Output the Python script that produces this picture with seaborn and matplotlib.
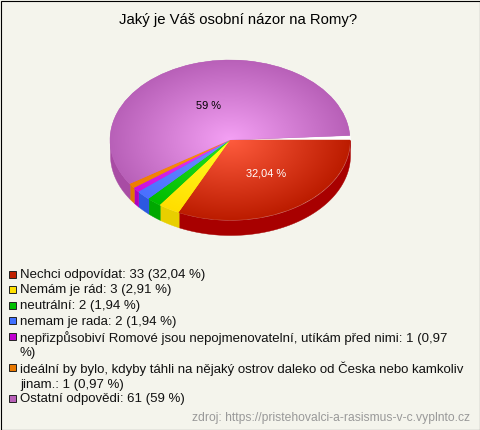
import numpy as np
import seaborn as sns
import matplotlib.pyplot as plt
from matplotlib.patches import Rectangle

sns.set_theme(style="white")
plt.rcParams['font.family'] = ['Liberation Sans', 'DejaVu Sans']

title = "Jaký je Váš osobní názor na Romy?"
source = "zdroj: https://pristehovalci-a-rasismus-v-c.vyplnto.cz"
legend_labels = [
    "Nechci odpovídat: 33 (32,04 %)",
    "Nemám je rád: 3 (2,91 %)",
    "neutrální: 2 (1,94 %)",
    "nemam je rada: 2 (1,94 %)",
    "nepřizpůsobiví Romové jsou nepojmenovatelní, utíkám před nimi: 1 (0,97\n%)",
    "ideální by bylo, kdyby táhli na nějaký ostrov daleko od Česka nebo kamkoliv\njinam.: 1 (0,97 %)",
    "Ostatní odpovědi: 61 (59 %)",
]
percents = [32.04, 2.91, 1.94, 1.94, 0.97, 0.97, 59]

center_colors = ["#ff5c3e", "#ffff22", "#24e424", "#7090ff", "#e844f4", "#ff9414", "#f4a0f4"]
edge_colors = ["#bc1c00", "#ffde00", "#00bc00", "#4a70ff", "#cc10dc", "#ee7e00", "#b860b8"]
side_colors = ["#a80000", "#e8cf00", "#00a800", "#2c58e0", "#b000c0", "#e07800", "#a84ca4"]
swatch_colors = ["#c02000", "#ffe000", "#00c000", "#4070ff", "#c000d0", "#e87800", "#b860b8"]

bg = "#f4f4ec"
depth = 15 / 80

fig = plt.figure(figsize=(4.8, 4.3), dpi=100, facecolor=bg)

# pie box in pixels: x 100-360, y 50-250, pie centre at 230,140
ax = fig.add_axes([100 / 480, 1 - 250 / 430, 260 / 480, 200 / 430])
wedges, _ = ax.pie([p / 100 for p in percents], startangle=0, counterclock=False, normalize=False, colors=edge_colors)

# last slice stops a bit before the first one, white gap between
wedges[-1].set_theta1(wedges[-1].theta1 + 2.4)
ax.pie([0.008], startangle=0, counterclock=True, normalize=False, colors=["white"], wedgeprops={'zorder': 0})

xx, yy = np.meshgrid(np.linspace(-1.1, 1.1, 500), np.linspace(-1.1, 1.1, 500))
rr = np.clip(np.sqrt(xx ** 2 + yy ** 2), 0, 1)

for i, w in enumerate(wedges):
    # side of the slice, only the part facing down
    t = np.radians(np.linspace(w.theta1, w.theta2, 500))
    x = np.cos(t)
    y = np.sin(t)
    m = y <= 0
    ax.fill_between(x[m], y[m], y[m] - depth, color=side_colors[i], lw=0.3, zorder=0.5)

    w.set_edgecolor(edge_colors[i])
    w.set_linewidth(0.3)
    w.set_zorder(1)

    cmap = sns.blend_palette([center_colors[i], edge_colors[i]], as_cmap=True)
    im = ax.imshow(rr, cmap=cmap, vmin=0, vmax=1, extent=(-1.1, 1.1, -1.1, 1.1),
                   origin='lower', aspect='auto', zorder=2, interpolation='bilinear')
    im.set_clip_path(w)

ax.set_aspect('auto')
ax.set_xlim(-130 / 120, 130 / 120)
ax.set_ylim(-110 / 80, 90 / 80)
ax.axis('off')

# overlay in pixel coords for the texts
ov = fig.add_axes([0, 0, 1, 1], facecolor='none')
ov.set_xlim(0, 480)
ov.set_ylim(430, 0)
ov.axis('off')

ov.text(238, 20, title, ha='center', va='center', fontsize=10.7, color='black')
ov.text(209, 106, "59 %", ha='center', va='center', fontsize=7.9, color='black')
ov.text(266, 173, "32,04 %", ha='center', va='center', fontsize=7.9, color='white')

row = 274.5
for i, lab in enumerate(legend_labels):
    ov.add_patch(Rectangle((9, row - 4), 7, 7, facecolor=swatch_colors[i], edgecolor='#222222', lw=0.7))
    ov.text(20, row - 5.5, lab, ha='left', va='top', fontsize=9.58, color='#111111', linespacing=1.25)
    row += 15.5 * (lab.count('\n') + 1)

ov.text(470, 418, source, ha='right', va='center', fontsize=8.7, color='#999999')

# black frame
ov.add_patch(Rectangle((0.5, 0.5), 479, 429, facecolor='none', edgecolor='black', lw=0.8, clip_on=False))

fig.savefig("out.png", dpi=100, facecolor=bg)
